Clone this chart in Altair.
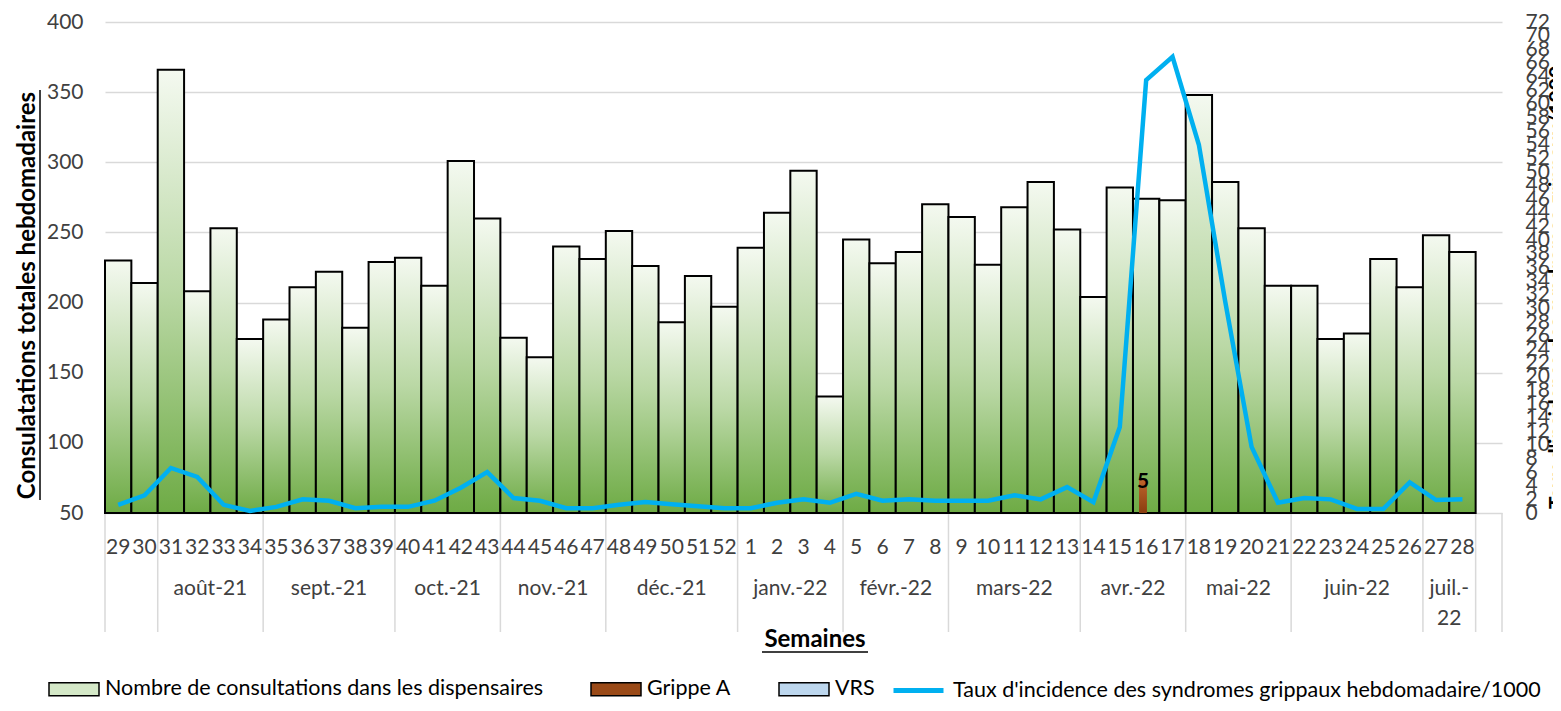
import altair as alt
import pandas as pd

# ---------------- data ----------------
weeks = [29, 30, 31, 32, 33, 34, 35, 36, 37, 38, 39, 40, 41, 42, 43, 44, 45, 46, 47, 48, 49, 50, 51, 52,
         1, 2, 3, 4, 5, 6, 7, 8, 9, 10, 11, 12, 13, 14, 15, 16, 17, 18, 19, 20, 21, 22, 23, 24, 25, 26, 27, 28]
consultations = [230, 214, 366, 208, 253, 174, 188, 211, 222, 182, 229, 232, 212, 301, 260, 175, 161, 240,
                 231, 251, 226, 186, 219, 197, 239, 264, 294, 133, 245, 228, 236, 270, 261, 227, 268, 286,
                 252, 204, 282, 274, 273, 348, 286, 253, 212, 212, 174, 178, 231, 211, 248, 236]
grippe_a = [0, 0, 0, 0, 0, 0, 0, 0, 0, 0, 0, 0, 0, 0, 0, 0, 0, 0, 0, 0, 0, 0, 0, 0,
            0, 0, 0, 0, 0, 0, 0, 0, 0, 0, 0, 0, 0, 0, 0, 5, 0, 0, 0, 0, 0, 0, 0, 0, 0, 0, 0, 0]
vrs = [0, 0, 0, 0, 0, 0, 0, 0, 0, 0, 0, 0, 0, 0, 0, 0, 0, 0, 0, 0, 0, 0, 0, 0,
       0, 0, 0, 0, 0, 0, 0, 0, 0, 0, 0, 0, 0, 0, 0, 0, 0, 0, 0, 0, 0, 0, 0, 0, 0, 0, 0, 0]
incidence = [1.2, 2.6, 6.6, 5.3, 1.2, 0.3, 0.9, 2.0, 1.8, 0.7, 0.9, 0.9, 1.8, 3.7, 6.0, 2.2, 1.8, 0.7,
             0.7, 1.2, 1.6, 1.3, 1.0, 0.7, 0.7, 1.5, 2.0, 1.5, 2.8, 1.8, 2.0, 1.8, 1.8, 1.8, 2.6, 2.0,
             3.8, 1.6, 12.6, 63.5, 66.9, 54.0, 31.0, 9.7, 1.5, 2.2, 2.0, 0.6, 0.6, 4.5, 1.9, 2.0]
month_labels = ["", "août-21", "sept.-21", "oct.-21", "nov.-21", "déc.-21", "janv.-22", "févr.-22",
                "mars-22", "avr.-22", "mai-22", "juin-22", "juil.-\n22"]
month_weeks = [2, 4, 5, 4, 4, 5, 4, 4, 5, 4, 4, 5, 2]

series_names = ["Nombre de consultations dans les dispensaires", "Grippe A", "VRS"]
line_name = "Taux d'incidence des syndromes grippaux hebdomadaire/1000"
left_title = "Consulatations totales hebdomadaires"
right_title = "Taux d'incidence des syndromes grippaux/1000"
x_title = "Semaines"

# ---------------- tables ----------------
n_slots = len(weeks) + 1  # one empty category at the end
df = pd.DataFrame({
    "idx": list(range(len(weeks))),
    "week": [str(w) for w in weeks],
    "consultations": consultations,
    "grippe_a": grippe_a,
    "vrs": vrs,
    "incidence": incidence,
})
df["x0"] = df["idx"]
df["x1"] = df["idx"] + 1
df["xm"] = df["idx"] + 0.5
df["gx0"] = df["idx"] + 0.23
df["gx1"] = df["idx"] + 0.53
df["gxm"] = df["idx"] + 0.38
df["serie_line"] = line_name

starts, mids = [], []
pos = 0
for n in month_weeks:
    starts.append(pos)
    mids.append(pos + n / 2)
    pos += n
month_df = pd.DataFrame({"label": month_labels, "mid": mids})
bounds_df = pd.DataFrame({"b": starts + [pos, n_slots]})
legend_df = pd.DataFrame({"serie": series_names})
xtitle_df = pd.DataFrame({"t": [x_title]})

# ---------------- layout ----------------
W, H = 1397, 491
FONT = "Lato"
LBL = "#404040"
LEG_FS = 21.5
LEG_Y = 641
xs = alt.Scale(domain=[0, n_slots], nice=False, zero=False)
ys_left = alt.Scale(domain=[50, 400], nice=False, zero=False)
ys_right = alt.Scale(domain=[0, 72], nice=False, zero=False)

green = alt.Gradient(gradient="linear", x1=0, x2=0, y1=0, y2=1, stops=[
    alt.GradientStop(color="#F4F9F0", offset=0),
    alt.GradientStop(color="#BAD8A5", offset=0.5),
    alt.GradientStop(color="#6EAB45", offset=1)])
brown = alt.Gradient(gradient="linear", x1=0, x2=0, y1=0, y2=1, stops=[
    alt.GradientStop(color="#C0662C", offset=0),
    alt.GradientStop(color="#8A3E10", offset=1)])

bars = alt.Chart(df).mark_bar(fill=green, stroke="black", strokeWidth=2).encode(
    x=alt.X("x0:Q", scale=xs, axis=None),
    x2="x1:Q",
    y=alt.Y("consultations:Q", scale=ys_left, axis=alt.Axis(
        values=list(range(50, 401, 50)), grid=True, gridColor="#D9D9D9", gridWidth=1.5,
        domain=False, ticks=False, labelPadding=22, labelFontSize=21, labelColor=LBL,
        title=left_title, titleFontSize=24, titleFontWeight="bold", titleColor="black",
        titleAngle=270, titleX=-78, titleY=273, titleBaseline="middle", titleAlign="center")),
    y2=alt.datum(50),
)

line = alt.Chart(df).mark_line(strokeWidth=4.5).encode(
    x=alt.X("xm:Q", scale=xs, axis=None),
    y=alt.Y("incidence:Q", scale=ys_right, axis=alt.Axis(
        orient="right", values=list(range(0, 73, 2)), grid=False, domain=False, ticks=False,
        labelOverlap=False, labelPadding=23, labelFontSize=21, labelColor=LBL, labelBaseline="middle",
        title=right_title, titleFontSize=21, titleFontWeight="bold", titleColor="black",
        titleAngle=270, titleX=55, titleY=265, titleBaseline="middle", titleAlign="center")),
    stroke=alt.Stroke("serie_line:N", scale=alt.Scale(domain=[line_name], range=["#00B0F0"]),
                      legend=alt.Legend(orient="none", legendX=786, legendY=LEG_Y, title=None,
                                        symbolType="stroke", symbolSize=2500, symbolStrokeWidth=5,
                                        labelFontSize=LEG_FS, labelColor="black", labelOffset=7,
                                        labelLimit=0)),
)

grippe = alt.Chart(df).transform_filter("datum.grippe_a > 0").mark_bar(fill=brown).encode(
    x=alt.X("gx0:Q", scale=xs, axis=None),
    x2="gx1:Q",
    y=alt.Y("grippe_a:Q", scale=ys_right, axis=None),
    y2=alt.datum(0),
)

grippe_lbl = alt.Chart(df).transform_filter("datum.grippe_a > 0").mark_text(
    fontSize=21, fontWeight="bold", color="black", baseline="middle", dy=3).encode(
    x=alt.X("gxm:Q", scale=xs, axis=None),
    y=alt.Y("grippe_a:Q", scale=ys_right, axis=None),
    text="grippe_a:Q",
)

legend_layer = alt.Chart(legend_df).mark_rect().encode(
    x=alt.value(0), x2=alt.value(0), y=alt.value(0), y2=alt.value(0),
    color=alt.Color("serie:N", scale=alt.Scale(domain=series_names,
                                               range=["#D5E9C8", "#9A4A18", "#BDD7EE"]),
                    legend=alt.Legend(orient="none", legendX=-57, legendY=LEG_Y, title=None,
                                      direction="horizontal", columns=3, columnPadding=44,
                                      symbolType="M-1,-0.26L1,-0.26L1,0.26L-1,0.26Z",
                                      symbolSize=2500, symbolStrokeColor="black",
                                      symbolStrokeWidth=1.5, symbolOpacity=1,
                                      labelFontSize=LEG_FS, labelColor="black",
                                      labelOffset=5, labelLimit=0)),
)

week_text = alt.Chart(df).mark_text(fontSize=21, color=LBL, baseline="middle").encode(
    x=alt.X("xm:Q", scale=xs, axis=None),
    y=alt.value(H + 35),
    text="week:N",
)

month_text = alt.Chart(month_df).mark_text(fontSize=21, color=LBL, baseline="top",
                                           lineBreak="\n", lineHeight=30).encode(
    x=alt.X("mid:Q", scale=xs, axis=None),
    y=alt.value(H + 65),
    text="label:N",
)

seps = alt.Chart(bounds_df).mark_rule(color="#D9D9D9", strokeWidth=1.5).encode(
    x=alt.X("b:Q", scale=xs, axis=None),
    y=alt.value(H),
    y2=alt.value(H + 119),
)

xtitle = alt.Chart(xtitle_df).mark_text(fontSize=24, fontWeight="bold", color="black",
                                        baseline="middle").encode(
    x=alt.value(710), y=alt.value(H + 127), text="t:N")
xtitle_ul = alt.Chart(xtitle_df).mark_rule(color="black", strokeWidth=1.5).encode(
    x=alt.value(657), x2=alt.value(763), y=alt.value(H + 139))
ytitle_ul = alt.Chart(xtitle_df).mark_rule(color="black", strokeWidth=1.5).encode(
    x=alt.value(-65), y=alt.value(68), y2=alt.value(478))

chart = alt.layer(
    seps, bars, grippe, grippe_lbl, line, week_text, month_text, legend_layer,
    xtitle, xtitle_ul, ytitle_ul
).resolve_scale(
    y="independent"
).properties(
    width=W, height=H,
    autosize=alt.AutoSizeParams(type="none"),
    padding={"left": 97, "top": 14, "right": 51, "bottom": 190},
).configure(font=FONT).configure_view(stroke=None)

chart.save("out.html", embed_options={"renderer": "svg", "actions": False})
